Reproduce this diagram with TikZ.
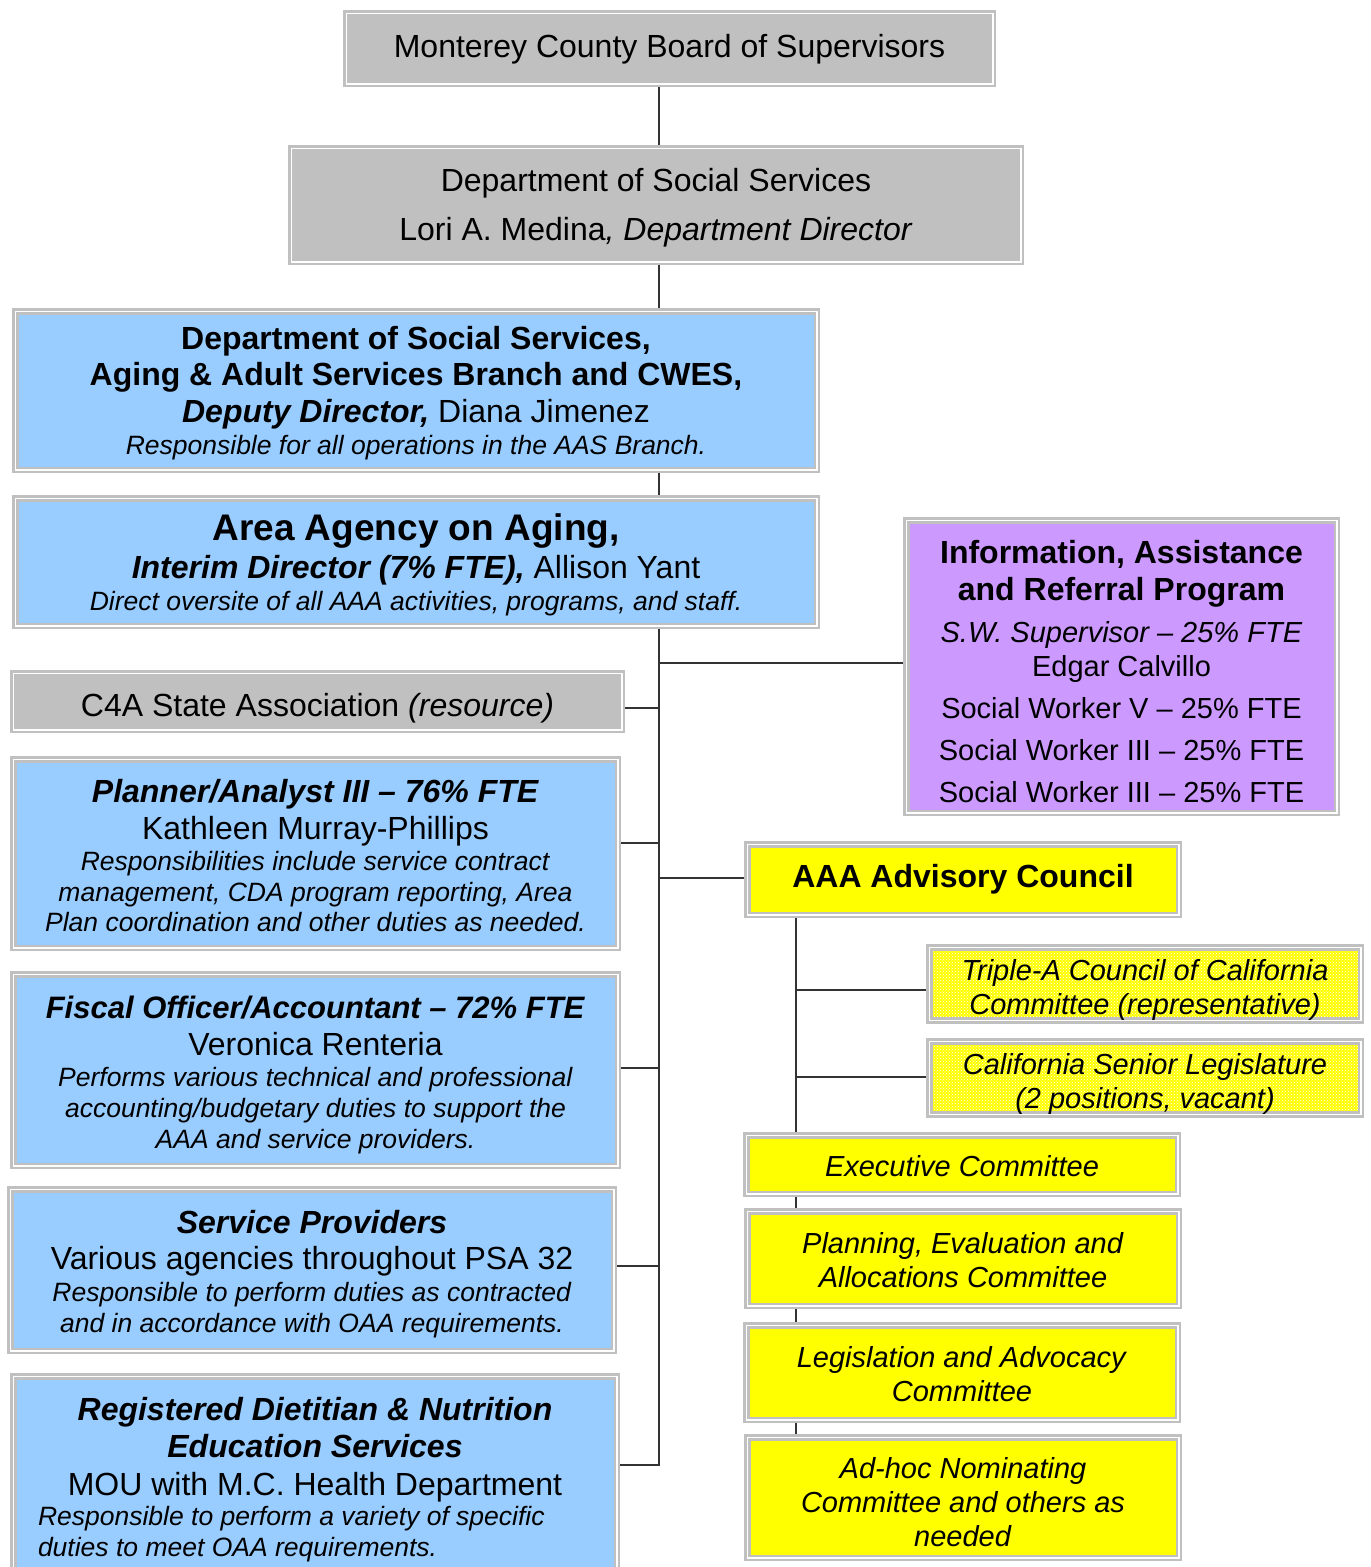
\documentclass[tikz,border=0pt]{standalone}
\usepackage{fontspec}
\setmainfont{Liberation Sans}
\usetikzlibrary{backgrounds,patterns}
\definecolor{bord}{HTML}{C0C0C0}
\definecolor{grayfill}{HTML}{C0C0C0}
\definecolor{bluefill}{HTML}{99CCFF}
\definecolor{purpfill}{HTML}{CC99FF}
\definecolor{yelfill}{HTML}{FFFF00}
\newcommand{\szA}{\fontsize{32}{37}\selectfont}
\newcommand{\szS}{\fontsize{26.5}{31}\selectfont}
\newcommand{\szC}{\fontsize{29}{34}\selectfont}
\newcommand{\szD}{\fontsize{37}{42}\selectfont}
\newcommand{\tp}[1]{\rule{0pt}{#1pt}}
\newcommand{\bt}[1]{\rule[-#1pt]{0pt}{#1pt}}
\begin{document}
\begin{tikzpicture}[x=1pt,y=-1pt,
  box/.style={draw=bord, line width=2.5pt, double=white, double distance=1.5pt,
    inner sep=0pt, outer sep=0pt, align=center, anchor=center},
  conn/.style={draw=black!80, line width=1.3pt}]
\useasboundingbox (0,0) rectangle (1371,1567);
\clip (0,0) rectangle (1371,1567);

% top chain
\node[box, fill=grayfill, minimum width=646.5, minimum height=70.5, font=\szA] (board) at (669.5,48.5)
  {\tp{25.4}Monterey County Board of Supervisors};
\node[box, fill=grayfill, minimum width=729.5, minimum height=113.5, font=\fontsize{32}{49}\selectfont] (dss) at (656,205)
  {\tp{29.4}Department of Social Services\\Lori A. Medina\textit{, Department Director}};
\node[box, fill=bluefill, minimum width=801.5, minimum height=158.5, font=\szA] (dep) at (416,390.5)
  {\tp{29.4}\textbf{Department of Social Services,}\\[-1pt]
   \textbf{Aging \& Adult Services Branch and CWES,}\\
   \textbf{\textit{Deputy Director,}} Diana Jimenez\\[-5pt]
   {\szS\textit{Responsible for all operations in the AAS Branch.}}};
\node[box, fill=bluefill, minimum width=801.5, minimum height=127.5, font=\fontsize{32}{38.5}\selectfont] (aaa) at (416,562)
  {{\szD\tp{32}\textbf{Area Agency on Aging,}}\\
   \textbf{\textit{Interim Director (7\% FTE),}} Allison Yant\\[-6.7pt]
   {\szS\textit{Direct oversite of all AAA activities, programs, and staff.}}};

% left column
\node[box, fill=grayfill, minimum width=608.5, minimum height=56.5, font=\szA] (c4a) at (317.5,701.5)
  {\tp{36.4}C4A State Association \textit{(resource)}};
\node[box, fill=bluefill, minimum width=604.5, minimum height=188.5, font=\szA] (plan) at (315.5,853.5)
  {\tp{27.4}\textbf{\textit{Planner/Analyst III – 76\% FTE}}\\
   Kathleen Murray-Phillips\\[-6pt]
   {\szS\textit{Responsibilities include service contract}}\\[-6pt]
   {\szS\textit{management, CDA program reporting, Area}}\\[-7pt]
   {\szS\textit{Plan coordination and other duties as needed.}}};
\node[box, fill=bluefill, minimum width=604.5, minimum height=191.5, font=\szA] (fisc) at (315.5,1070)
  {\tp{33.4}{\fontsize{31}{37}\selectfont\textbf{\textit{Fiscal Officer/Accountant – 72\% FTE}}}\\
   Veronica Renteria\\[-6pt]
   {\szS\textit{Performs various technical and professional}}\\[-6pt]
   {\szS\textit{accounting/budgetary duties to support the}}\\[-6pt]
   {\szS\textit{AAA and service providers.}}};
\node[box, fill=bluefill, minimum width=603.5, minimum height=161.5, font=\szA] (serv) at (312,1270)
  {\tp{31.4}\textbf{\textit{Service Providers}}\\[-1pt]
   Various agencies throughout PSA 32\\[-5pt]
   {\szS\textit{Responsible to perform duties as contracted}}\\[-6pt]
   {\szS\textit{and in accordance with OAA requirements.}}};
\node[box, fill=bluefill, minimum width=603.5, minimum height=210.5, font=\szA] (diet) at (315,1481.5)
  {\textbf{\textit{Registered Dietitian \& Nutrition}}\\
   \textbf{\textit{Education Services}}\\[1pt]
   MOU with M.C. Health Department\\[-7pt]
   \makebox[554pt][l]{\szS\textit{Responsible to perform a variety of specific}}\\[-6pt]
   \makebox[554pt][l]{\szS\textit{duties to meet OAA requirements.}\bt{9.5}}};

% right column
\node[box, fill=purpfill, minimum width=430.5, minimum height=292.5, font=\szA] (info) at (1121.5,666.5)
  {\tp{33.4}\textbf{Information, Assistance}\\
   \textbf{and Referral Program}\\[5pt]
   {\szC\textit{S.W. Supervisor – 25\% FTE}}\\[-3pt]
   {\szC Edgar Calvillo}\\[5pt]
   {\szC Social Worker V – 25\% FTE}\\[5pt]
   {\szC Social Worker III – 25\% FTE}\\[5pt]
   {\szC Social Worker III – 25\% FTE}};
\node[box, fill=yelfill, minimum width=431.5, minimum height=70.5, font=\szA] (adv) at (963,879.5)
  {\textbf{AAA Advisory Council}};
\node[box, preaction={fill=yelfill}, pattern=crosshatch dots, pattern color=white,
      minimum width=431.5, minimum height=71.5, font=\szC] (trip) at (1145,984)
  {\tp{33.2}\textit{Triple-A Council of California}\\\textit{Committee (representative)}};
\node[box, preaction={fill=yelfill}, pattern=crosshatch dots, pattern color=white,
      minimum width=431.5, minimum height=71.5, font=\szC] (csl) at (1145,1078)
  {\tp{33.2}\textit{California Senior Legislature}\\\textit{(2 positions, vacant)}};
\node[box, fill=yelfill, minimum width=431.5, minimum height=58.5, font=\szC] (exec) at (962,1164.5)
  {\tp{25.2}\textit{Executive Committee}};
\node[box, fill=yelfill, minimum width=431.5, minimum height=94.5, font=\szC] (pea) at (963,1258.5)
  {\tp{25.2}\textit{Planning, Evaluation and}\\\textit{Allocations Committee}};
\node[box, fill=yelfill, minimum width=431.5, minimum height=94.5, font=\szC] (leg) at (962,1372.5)
  {\tp{25.2}\textit{Legislation and Advocacy}\\\textit{Committee}};
\node[box, fill=yelfill, minimum width=431.5, minimum height=120.5, font=\szC] (adhoc) at (963,1497.5)
  {\tp{31.2}\textit{Ad-hoc Nominating}\\\textit{Committee and others as}\\\textit{needed}};

% connector helpers
\coordinate (t0) at (659,0);
\coordinate (s0) at (796,0);
\coordinate (infoB) at ([yshift=3.5pt]info.west);
\coordinate (c4aB) at ([yshift=-6.5pt]c4a.east);
\coordinate (planB) at ([yshift=10.5pt]plan.east);
\coordinate (advB) at ([yshift=1.5pt]adv.west);
\coordinate (fiscB) at ([yshift=2pt]fisc.east);
\coordinate (servB) at ([yshift=4pt]serv.east);
\coordinate (dietB) at ([yshift=16.5pt]diet.east);
\coordinate (tripB) at ([yshift=-6pt]trip.west);
\coordinate (cslB) at ([yshift=1pt]csl.west);

\begin{pgfonlayer}{background}
\draw[conn] (board.south -| t0) -- (dss.north -| t0);
\draw[conn] (dss.south -| t0) -- (dep.north -| t0);
\draw[conn] (dep.south -| t0) -- (aaa.north -| t0);
\draw[conn] (aaa.south -| t0) -- (dietB -| t0) -- (dietB);
\draw[conn] (infoB -| t0) -- (infoB);
\draw[conn] (c4aB) -- (c4aB -| t0);
\draw[conn] (planB) -- (planB -| t0);
\draw[conn] (advB -| t0) -- (advB);
\draw[conn] (fiscB) -- (fiscB -| t0);
\draw[conn] (servB) -- (servB -| t0);
\draw[conn] (adv.south -| s0) -- (adhoc.north -| s0);
\draw[conn] (tripB -| s0) -- (tripB);
\draw[conn] (cslB -| s0) -- (cslB);
\end{pgfonlayer}
\end{tikzpicture}
\end{document}
